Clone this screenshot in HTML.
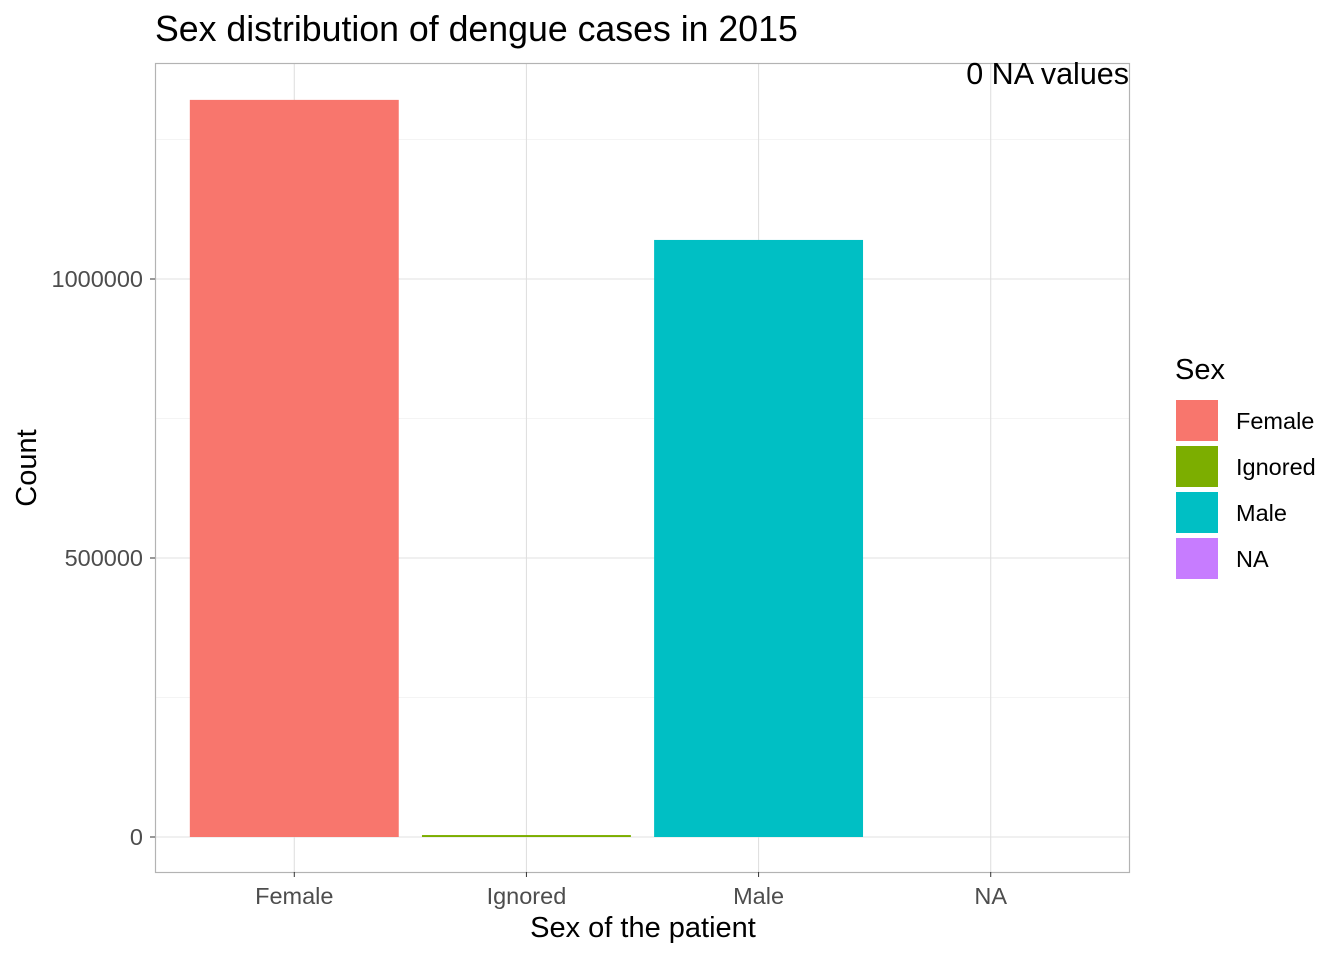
<!DOCTYPE html>
<html><head><meta charset="utf-8"><style>
body{margin:0;background:#fff;}
svg{display:block;font-family:"Liberation Sans",sans-serif;}
</style></head><body>
<svg id="chart" width="1344" height="960">
<text x="155" y="41" font-size="35.7" fill="#000">Sex distribution of dengue cases in 2015</text>
<g id="grid"></g>
<g id="bars"></g>
<rect x="155.5" y="63.5" width="974" height="809" fill="none" stroke="#b3b3b3" stroke-width="1.2"/>
<text x="1129" y="84" font-size="30.5" text-anchor="end" fill="#000">0 NA values</text>
<g id="yticks"></g>
<g id="xticks"></g>
<text x="643" y="937" font-size="29" text-anchor="middle" fill="#000">Sex of the patient</text>
<text transform="translate(36,468) rotate(-90)" font-size="29" text-anchor="middle" fill="#000">Count</text>
<g id="legend">
<text x="1175" y="379" font-size="29" fill="#000">Sex</text>
</g>
</svg>
<script>
const categories=["Female","Ignored","Male","NA"];
const counts=[1321000,3500,1070000,0];
const colors=["#F8766D","#7CAE00","#00BFC4","#C77CFF"];
const yTicks=[0,500000,1000000];
const yMinor=[250000,750000,1250000];
const NS="http://www.w3.org/2000/svg";
const x0=155,x1=1130,py0=837,pxPerUnit=279/500000;
const unit=(x1-x0)/(categories.length-1+1.2);
function xc(i){return x0+unit*0.6+i*unit;}
function y(v){return py0-v*pxPerUnit;}
function mk(tag,attrs,parent){const e=document.createElementNS(NS,tag);for(const k in attrs)e.setAttribute(k,attrs[k]);document.getElementById(parent).appendChild(e);return e;}
yMinor.forEach(v=>{const l=mk("line",{x1:x0,x2:x1,y1:y(v),y2:y(v),stroke:"#f0f0f0","stroke-width":0.8},"grid");

});
yTicks.forEach(v=>{const l=mk("line",{x1:x0,x2:x1,y1:y(v),y2:y(v),stroke:"#e0e0e0","stroke-width":1.1},"grid");


const t=mk("text",{x:143,y:y(v)+8,"font-size":23.5,"text-anchor":"end",fill:"#4d4d4d"},"yticks");t.textContent=v;


mk("line",{x1:150,x2:155,y1:y(v),y2:y(v),stroke:"#333","stroke-width":1},"yticks");});
categories.forEach((c,i)=>{const l=mk("line",{x1:xc(i),x2:xc(i),y1:63,y2:872,stroke:"#e0e0e0","stroke-width":1.1},"grid");


const w=unit*0.9;
const h=Math.max(0,py0-y(counts[i]));
const r=mk("rect",{x:xc(i)-w/2,y:y(counts[i]),width:w,height:h,fill:colors[i]},"bars");


const t=mk("text",{x:xc(i),y:904,"font-size":23.5,"text-anchor":"middle",fill:"#4d4d4d"},"xticks");t.textContent=c;


mk("line",{x1:xc(i),x2:xc(i),y1:872,y2:877,stroke:"#333","stroke-width":1},"xticks");
const k=mk("rect",{x:1176,y:400+i*46,width:42,height:41,fill:colors[i]},"legend");


const lt=mk("text",{x:1236,y:429+i*46,"font-size":23.5,fill:"#000"},"legend");lt.textContent=c;

});
</script>
</body></html>
